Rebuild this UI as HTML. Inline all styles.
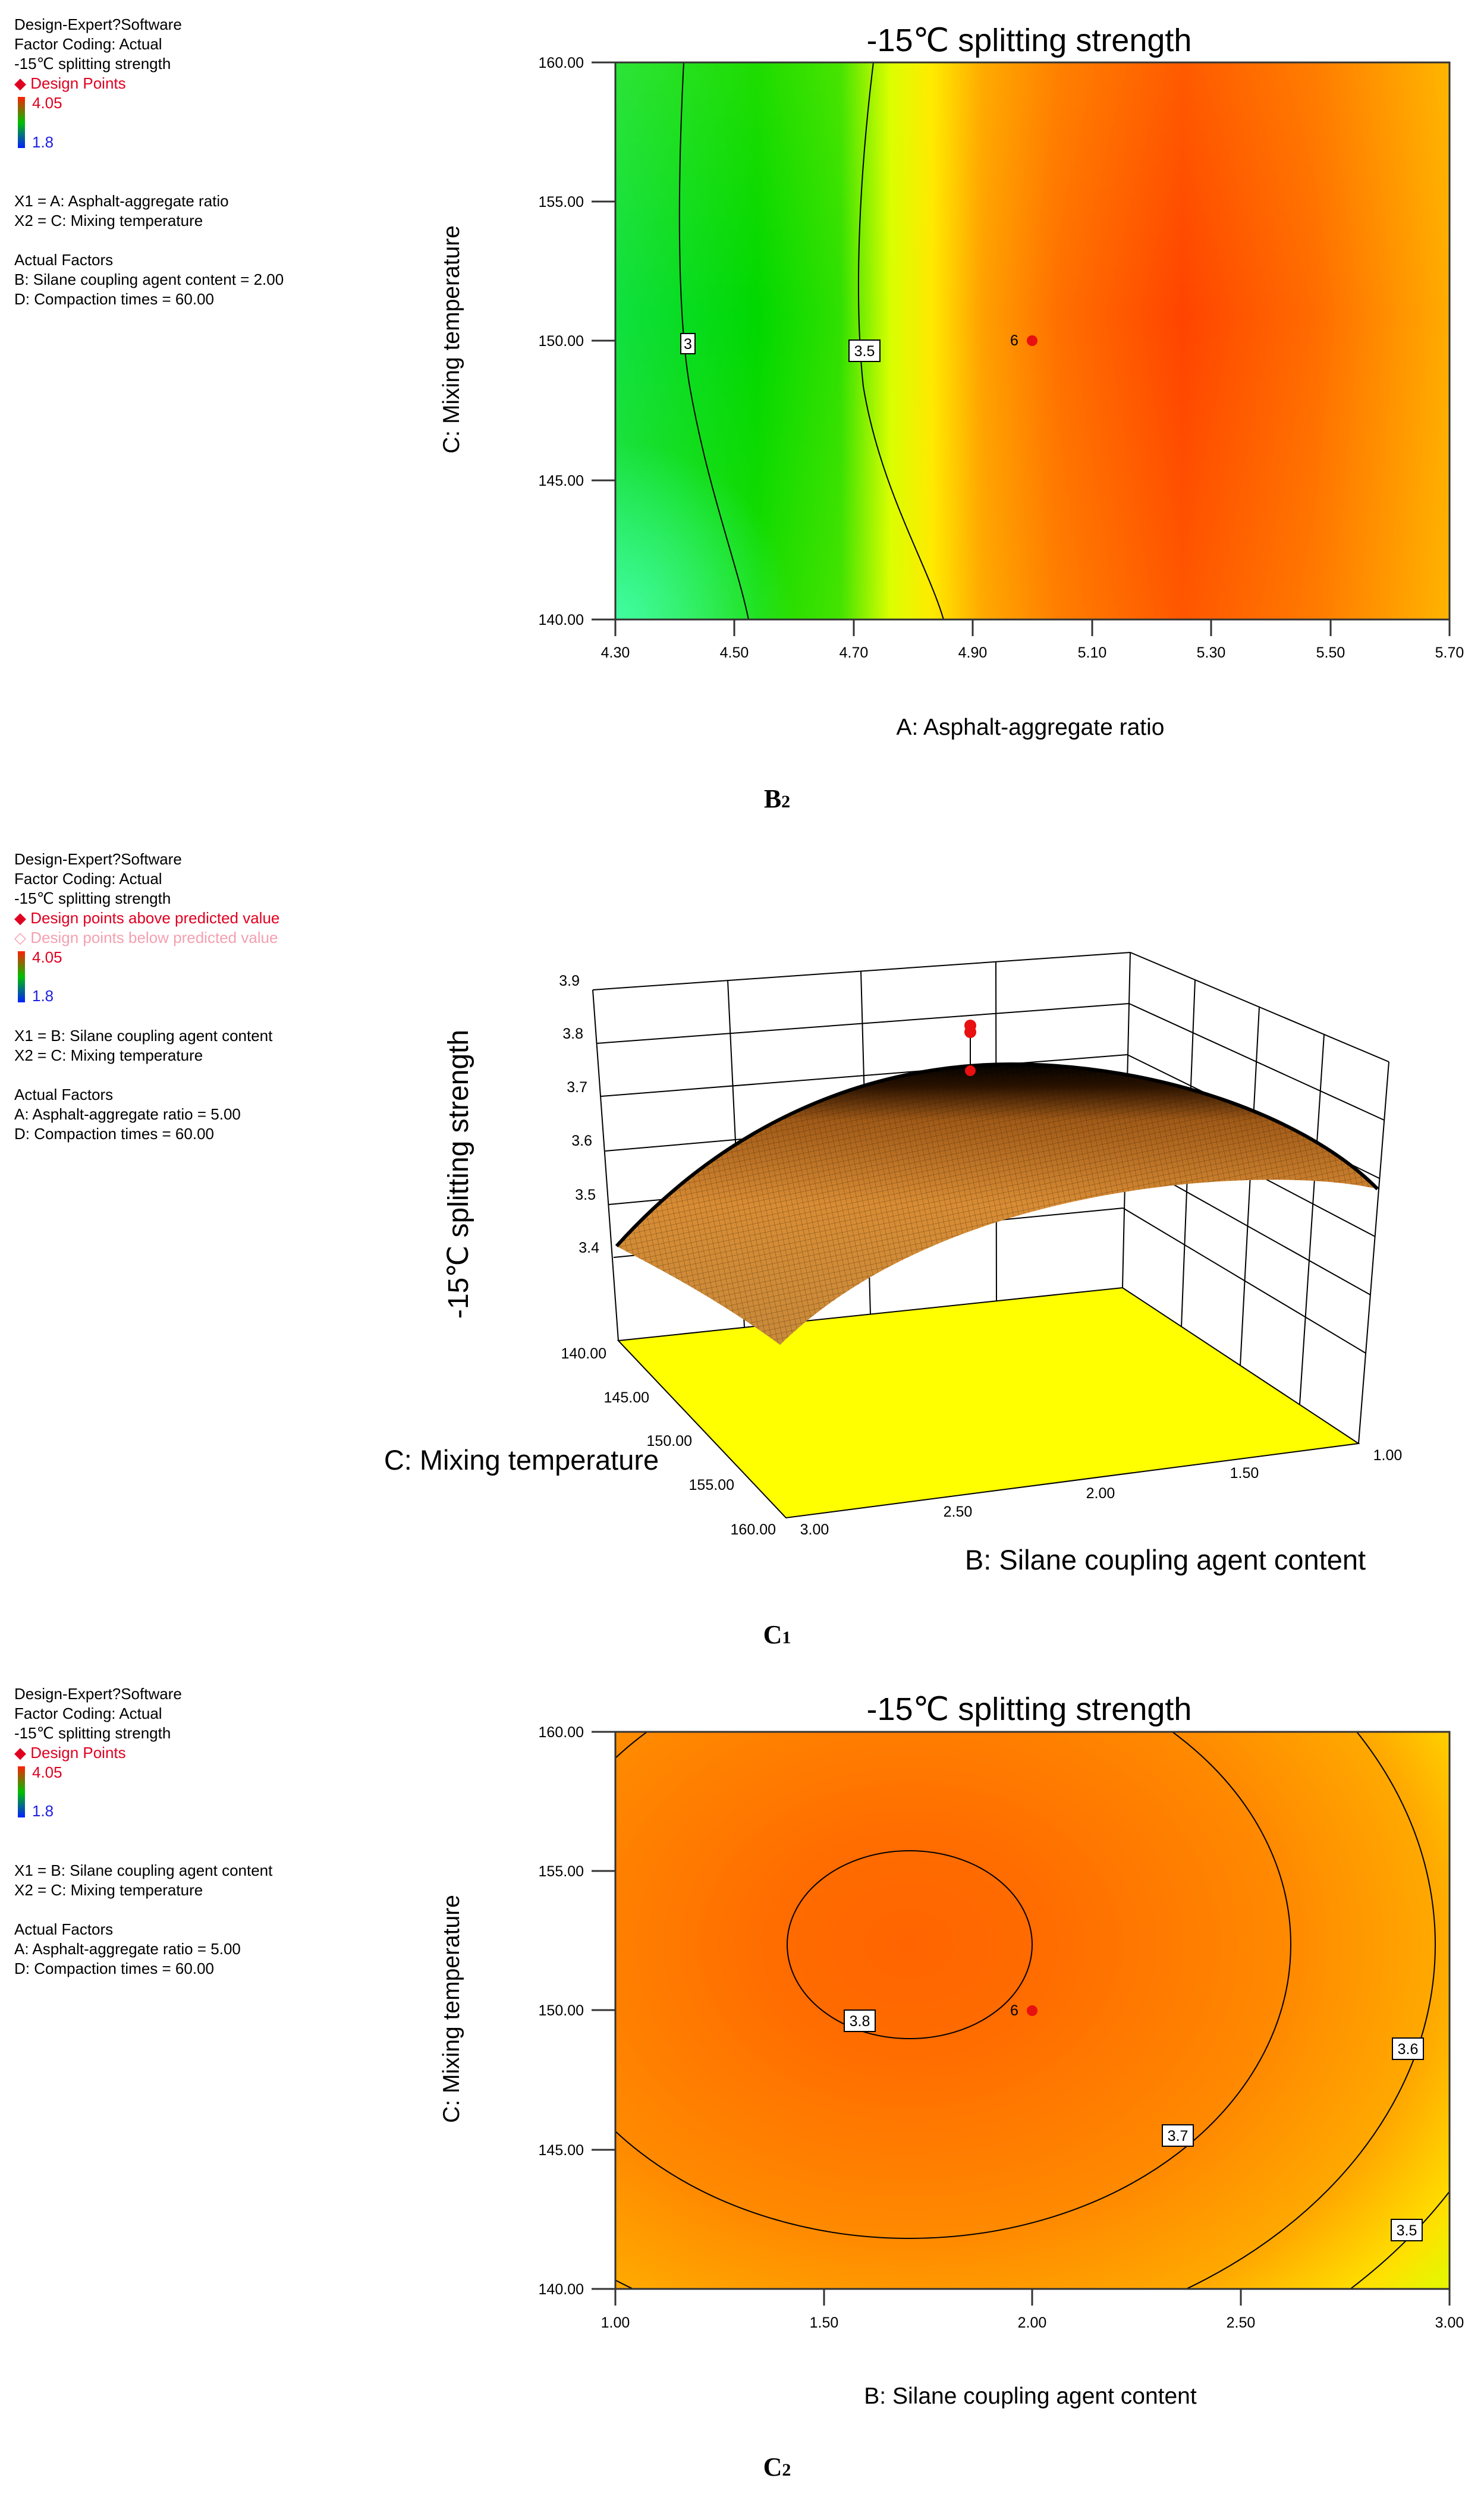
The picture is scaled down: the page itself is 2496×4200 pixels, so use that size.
<!DOCTYPE html>
<html><head><meta charset="utf-8"><style>
html,body{margin:0;padding:0;background:#fff;}
svg{display:block;}
text{font-family:"Liberation Sans",sans-serif;}
.ann{font-size:26px;fill:#000;}
.tk{font-size:25px;fill:#000;}
.cap{font-family:"Liberation Serif",serif;font-weight:bold;font-size:44px;}
</style></head><body>
<svg width="2496" height="4200" viewBox="0 0 2496 4200" xmlns="http://www.w3.org/2000/svg">
<defs>
<linearGradient id="cb" x1="0" y1="0" x2="0" y2="1">
<stop offset="0" stop-color="#ff2000"/><stop offset="0.5" stop-color="#00c000"/><stop offset="1" stop-color="#0020ff"/></linearGradient>
<linearGradient id="g1" x1="1035" y1="0" x2="2438" y2="0" gradientUnits="userSpaceOnUse">
<stop offset="0" stop-color="#10e040"/><stop offset="0.17" stop-color="#00d800"/><stop offset="0.27" stop-color="#30e000"/>
<stop offset="0.33" stop-color="#d8ff00"/><stop offset="0.38" stop-color="#ffe800"/><stop offset="0.44" stop-color="#ffa000"/>
<stop offset="0.53" stop-color="#ff7000"/><stop offset="0.68" stop-color="#ff4400"/><stop offset="0.84" stop-color="#ff6c00"/>
<stop offset="1" stop-color="#ffac00"/></linearGradient>
<radialGradient id="g1b" cx="1035" cy="1042" r="300" gradientUnits="userSpaceOnUse">
<stop offset="0" stop-color="#30ffc0" stop-opacity="0.9"/><stop offset="1" stop-color="#30ffc0" stop-opacity="0"/></radialGradient>
<linearGradient id="g1v" x1="0" y1="105" x2="0" y2="1042" gradientUnits="userSpaceOnUse">
<stop offset="0" stop-color="#ffff00" stop-opacity="0.12"/><stop offset="0.45" stop-color="#ffff00" stop-opacity="0"/><stop offset="1" stop-color="#ffff00" stop-opacity="0.1"/></linearGradient>
<radialGradient id="g3" cx="0" cy="0" r="1" gradientUnits="userSpaceOnUse" gradientTransform="translate(1530 3271) scale(1150 885)">
<stop offset="0" stop-color="#ff6400"/><stop offset="0.2" stop-color="#ff6c00"/><stop offset="0.56" stop-color="#ff8a00"/>
<stop offset="0.78" stop-color="#ffaa00"/><stop offset="0.93" stop-color="#ffe000"/><stop offset="1" stop-color="#e8f400"/></radialGradient>
<linearGradient id="gs" x1="0" y1="1790" x2="0" y2="2262" gradientUnits="userSpaceOnUse">
<stop offset="0" stop-color="#000"/><stop offset="0.08" stop-color="#2a1200"/><stop offset="0.2" stop-color="#a05a18"/>
<stop offset="0.5" stop-color="#d88c34"/><stop offset="1" stop-color="#c88a3a"/></linearGradient>
<pattern id="mesh" width="9" height="9" patternUnits="userSpaceOnUse" patternTransform="rotate(-12)">
<path d="M0 0H9M0 0V9" stroke="#2a1500" stroke-width="1" opacity="0.5"/></pattern>
<clipPath id="c1"><rect x="1035" y="105" width="1403" height="937"/></clipPath>
<clipPath id="c3"><rect x="1035" y="2913" width="1403" height="937"/></clipPath>
</defs>

<!-- ===== B2 ===== -->
<g class="ann">
<text x="24" y="50">Design-Expert?Software</text>
<text x="24" y="83">Factor Coding: Actual</text>
<text x="24" y="116">-15℃ splitting strength</text>
<text x="24" y="149" fill="#e00020">◆ Design Points</text>
<rect x="30" y="163" width="12" height="86" fill="url(#cb)"/>
<text x="54" y="182" fill="#e00020">4.05</text>
<text x="54" y="248" fill="#2020e0">1.8</text>
<text x="24" y="347">X1 = A: Asphalt-aggregate ratio</text>
<text x="24" y="380">X2 = C: Mixing temperature</text>
<text x="24" y="446">Actual Factors</text>
<text x="24" y="479">B: Silane coupling agent content = 2.00</text>
<text x="24" y="512">D: Compaction times  = 60.00</text>
</g>
<text x="1731" y="86" font-size="54" text-anchor="middle">-15℃ splitting strength</text>
<rect x="1035" y="105" width="1403" height="937" fill="url(#g1)"/>
<rect x="1035" y="105" width="1403" height="937" fill="url(#g1b)"/>
<rect x="1035" y="105" width="1403" height="937" fill="url(#g1v)"/>
<g clip-path="url(#c1)" fill="none" stroke="#000" stroke-width="2">
<path d="M1150 105 C1140 300 1138 520 1160 650 C1190 820 1240 950 1259 1042"/>
<path d="M1469 105 C1445 300 1436 500 1452 650 C1480 820 1560 950 1587 1042"/>
</g>
<rect x="1035" y="105" width="1403" height="937" fill="none" stroke="#333" stroke-width="3"/>
<rect x="1145" y="561" width="24" height="34" fill="#fff" stroke="#000" stroke-width="2"/>
<text x="1157" y="587" class="tk" text-anchor="middle">3</text>
<rect x="1428" y="572" width="52" height="36" fill="#fff" stroke="#000" stroke-width="2"/>
<text x="1454" y="599" class="tk" text-anchor="middle">3.5</text>
<circle cx="1736" cy="573" r="9" fill="#e81010"/>
<text x="1706" y="581" class="tk" text-anchor="middle" fill="#900">6</text>
<g stroke="#333" stroke-width="3">
<line x1="995" y1="105" x2="1035" y2="105"/><line x1="995" y1="339" x2="1035" y2="339"/>
<line x1="995" y1="573" x2="1035" y2="573"/><line x1="995" y1="808" x2="1035" y2="808"/>
<line x1="995" y1="1042" x2="1035" y2="1042"/>
<line x1="1035" y1="1042" x2="1035" y2="1070"/><line x1="1235" y1="1042" x2="1235" y2="1070"/>
<line x1="1436" y1="1042" x2="1436" y2="1070"/><line x1="1636" y1="1042" x2="1636" y2="1070"/>
<line x1="1837" y1="1042" x2="1837" y2="1070"/><line x1="2037" y1="1042" x2="2037" y2="1070"/>
<line x1="2238" y1="1042" x2="2238" y2="1070"/><line x1="2438" y1="1042" x2="2438" y2="1070"/>
</g>
<g class="tk" text-anchor="end">
<text x="982" y="114">160.00</text><text x="982" y="348">155.00</text><text x="982" y="582">150.00</text>
<text x="982" y="817">145.00</text><text x="982" y="1051">140.00</text></g>
<g class="tk" text-anchor="middle">
<text x="1035" y="1106">4.30</text><text x="1235" y="1106">4.50</text><text x="1436" y="1106">4.70</text>
<text x="1636" y="1106">4.90</text><text x="1837" y="1106">5.10</text><text x="2037" y="1106">5.30</text>
<text x="2238" y="1106">5.50</text><text x="2438" y="1106">5.70</text></g>
<text transform="translate(772 571) rotate(-90)" font-size="39" text-anchor="middle">C: Mixing temperature</text>
<text x="1733" y="1236" font-size="39" text-anchor="middle">A: Asphalt-aggregate ratio</text>
<text x="1307" y="1358" class="cap" text-anchor="middle">B<tspan font-size="30">2</tspan></text>

<!-- ===== C1 ===== -->
<g class="ann">
<text x="24" y="1454">Design-Expert?Software</text>
<text x="24" y="1487">Factor Coding: Actual</text>
<text x="24" y="1520">-15℃ splitting strength</text>
<text x="24" y="1553" fill="#e00020">◆ Design points above predicted value</text>
<text x="24" y="1586" fill="#f4a0b0">◇ Design points below predicted value</text>
<rect x="30" y="1600" width="12" height="86" fill="url(#cb)"/>
<text x="54" y="1619" fill="#e00020">4.05</text>
<text x="54" y="1684" fill="#2020e0">1.8</text>
<text x="24" y="1751">X1 = B: Silane coupling agent content</text>
<text x="24" y="1784">X2 = C: Mixing temperature</text>
<text x="24" y="1850">Actual Factors</text>
<text x="24" y="1883">A: Asphalt-aggregate ratio = 5.00</text>
<text x="24" y="1916">D: Compaction times  = 60.00</text>
</g>
<polygon points="1040,2255 1888,2166 2285,2428 1322,2553" fill="#ffff00" stroke="#000" stroke-width="2"/>
<g stroke="#000" stroke-width="2" fill="none">
<line x1="997" y1="1665" x2="1040" y2="2255"/>
<line x1="1901" y1="1602" x2="1888" y2="2166"/>
<line x1="2336" y1="1786" x2="2285" y2="2428"/>
<line x1="997" y1="1665" x2="1901" y2="1602"/>
<line x1="1901" y1="1602" x2="2336" y2="1786"/>
<line x1="1003" y1="1755" x2="1899" y2="1688"/><line x1="1899" y1="1688" x2="2328" y2="1884"/>
<line x1="1011" y1="1844" x2="1896" y2="1774"/><line x1="1896" y1="1774" x2="2320" y2="1982"/>
<line x1="1018" y1="1936" x2="1894" y2="1860"/><line x1="1894" y1="1860" x2="2313" y2="2080"/>
<line x1="1024" y1="2026" x2="1891" y2="1946"/><line x1="1891" y1="1946" x2="2305" y2="2178"/>
<line x1="1032" y1="2115" x2="1889" y2="2032"/><line x1="1889" y1="2032" x2="2297" y2="2276"/>
<line x1="1224" y1="1649" x2="1252" y2="2233"/>
<line x1="1448" y1="1634" x2="1464" y2="2211"/>
<line x1="1675" y1="1618" x2="1676" y2="2189"/>
<line x1="2010" y1="1648" x2="1987" y2="2232"/>
<line x1="2118" y1="1694" x2="2086" y2="2297"/>
<line x1="2227" y1="1740" x2="2186" y2="2362"/>
</g>
<path d="M1037 2096 C1250 1860 1500 1790 1700 1790 C1950 1790 2200 1880 2317 2000 C2150 1960 1600 1980 1312 2262 C1200 2180 1100 2130 1037 2096 Z" fill="url(#gs)"/>
<path d="M1037 2096 C1250 1860 1500 1790 1700 1790 C1950 1790 2200 1880 2317 2000 C2150 1960 1600 1980 1312 2262 C1200 2180 1100 2130 1037 2096 Z" fill="url(#mesh)"/>
<path d="M1037 2096 C1250 1860 1500 1790 1700 1790 C1950 1790 2200 1880 2317 2000" fill="none" stroke="#000" stroke-width="6"/>
<line x1="1632" y1="1725" x2="1632" y2="1801" stroke="#000" stroke-width="2"/>
<circle cx="1632" cy="1725" r="10" fill="#e81010"/><circle cx="1632" cy="1736" r="10" fill="#e81010"/>
<circle cx="1632" cy="1801" r="9" fill="#e81010"/>
<g class="tk" text-anchor="end">
<text x="975" y="1658">3.9</text><text x="981" y="1747">3.8</text><text x="988" y="1837">3.7</text>
<text x="996" y="1927">3.6</text><text x="1002" y="2018">3.5</text><text x="1008" y="2107">3.4</text></g>
<g class="tk" text-anchor="end">
<text x="1020" y="2285">140.00</text><text x="1092" y="2359">145.00</text><text x="1164" y="2432">150.00</text>
<text x="1235" y="2506">155.00</text><text x="1305" y="2581">160.00</text></g>
<g class="tk" text-anchor="middle">
<text x="1370" y="2581">3.00</text><text x="1611" y="2551">2.50</text><text x="1851" y="2520">2.00</text>
<text x="2093" y="2486">1.50</text><text x="2334" y="2456">1.00</text></g>
<text transform="translate(787 1975) rotate(-90)" font-size="48" text-anchor="middle">-15℃  splitting strength</text>
<text x="877" y="2472" font-size="47" text-anchor="middle">C: Mixing temperature</text>
<text x="1960" y="2640" font-size="47" text-anchor="middle">B: Silane coupling agent content</text>
<text x="1307" y="2764" class="cap" text-anchor="middle">C<tspan font-size="30">1</tspan></text>

<!-- ===== C2 ===== -->
<g class="ann">
<text x="24" y="2858">Design-Expert?Software</text>
<text x="24" y="2891">Factor Coding: Actual</text>
<text x="24" y="2924">-15℃ splitting strength</text>
<text x="24" y="2957" fill="#e00020">◆ Design Points</text>
<rect x="30" y="2971" width="12" height="86" fill="url(#cb)"/>
<text x="54" y="2990" fill="#e00020">4.05</text>
<text x="54" y="3055" fill="#2020e0">1.8</text>
<text x="24" y="3155">X1 = B: Silane coupling agent content</text>
<text x="24" y="3188">X2 = C: Mixing temperature</text>
<text x="24" y="3254">Actual Factors</text>
<text x="24" y="3287">A: Asphalt-aggregate ratio = 5.00</text>
<text x="24" y="3320">D: Compaction times  = 60.00</text>
</g>
<text x="1731" y="2893" font-size="54" text-anchor="middle">-15℃ splitting strength</text>
<rect x="1035" y="2913" width="1403" height="937" fill="url(#g3)"/>
<g clip-path="url(#c3)" fill="none" stroke="#000" stroke-width="2">
<ellipse cx="1530" cy="3271" rx="206" ry="158"/>
<ellipse cx="1530" cy="3271" rx="641" ry="494"/>
<ellipse cx="1530" cy="3271" rx="884" ry="681"/>
<ellipse cx="1530" cy="3271" rx="1056" ry="813"/>
</g>
<rect x="1035" y="2913" width="1403" height="937" fill="none" stroke="#333" stroke-width="3"/>
<g stroke="#000" stroke-width="2" fill="#fff">
<rect x="1420" y="3381" width="52" height="36"/><rect x="1955" y="3574" width="52" height="36"/>
<rect x="2342" y="3428" width="52" height="36"/><rect x="2340" y="3733" width="52" height="36"/></g>
<g class="tk" text-anchor="middle">
<text x="1446" y="3408">3.8</text><text x="1981" y="3601">3.7</text>
<text x="2368" y="3455">3.6</text><text x="2366" y="3760">3.5</text></g>
<circle cx="1736" cy="3382" r="9" fill="#e81010"/>
<text x="1706" y="3390" class="tk" text-anchor="middle" fill="#900">6</text>
<g stroke="#333" stroke-width="3">
<line x1="995" y1="2913" x2="1035" y2="2913"/><line x1="995" y1="3147" x2="1035" y2="3147"/>
<line x1="995" y1="3381" x2="1035" y2="3381"/><line x1="995" y1="3616" x2="1035" y2="3616"/>
<line x1="995" y1="3850" x2="1035" y2="3850"/>
<line x1="1035" y1="3850" x2="1035" y2="3878"/><line x1="1386" y1="3850" x2="1386" y2="3878"/>
<line x1="1736" y1="3850" x2="1736" y2="3878"/><line x1="2087" y1="3850" x2="2087" y2="3878"/>
<line x1="2438" y1="3850" x2="2438" y2="3878"/></g>
<g class="tk" text-anchor="end">
<text x="982" y="2922">160.00</text><text x="982" y="3156">155.00</text><text x="982" y="3390">150.00</text>
<text x="982" y="3625">145.00</text><text x="982" y="3859">140.00</text></g>
<g class="tk" text-anchor="middle">
<text x="1035" y="3915">1.00</text><text x="1386" y="3915">1.50</text><text x="1736" y="3915">2.00</text>
<text x="2087" y="3915">2.50</text><text x="2438" y="3915">3.00</text></g>
<text transform="translate(772 3379) rotate(-90)" font-size="39" text-anchor="middle">C: Mixing temperature</text>
<text x="1733" y="4043" font-size="39" text-anchor="middle">B: Silane coupling agent content</text>
<text x="1307" y="4164" class="cap" text-anchor="middle">C<tspan font-size="30">2</tspan></text>
</svg>
</body></html>
